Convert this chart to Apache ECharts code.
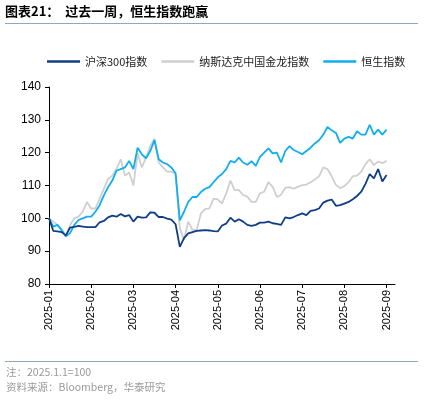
<!DOCTYPE html>
<html>
<head>
<meta charset="utf-8">
<script src="https://cdn.jsdelivr.net/npm/echarts@6/dist/echarts.min.js"></script>
<style>
  html, body { margin: 0; padding: 0; background: #fff; }
  #chart { width: 426px; height: 401px; }
</style>
</head>
<body>
<div id="chart"></div>
<script>
// 横轴月份，每月10个点
let months = ['2025-01', '2025-02', '2025-03', '2025-04', '2025-05', '2025-06', '2025-07', '2025-08', '2025-09'];
let pointsPerMonth = 10;
let yTicks = [80, 90, 100, 110, 120, 130, 140];
let seriesNames = ['沪深300指数', '纳斯达克中国金龙指数', '恒生指数'];

let csi300 = [
    100, 96.2, 96, 95.8, 94.8, 97.2, 97.4, 97.7, 97.5, 97.3,
    97.3, 97.3, 98.8, 99.2, 100.3, 100.8, 100.5, 101.3, 100.6, 101,
    99, 100.5, 100.2, 100.3, 101.8, 101.7, 100.4, 100.4, 99.9, 99.6,
    98.2, 91.3, 94, 95.4, 95.8, 96.2, 96.3, 96.4, 96.3, 96.1,
    96, 97.8, 98.4, 100.2, 99, 99.7, 99, 98, 97.7, 98,
    98.7, 98.7, 99, 98.5, 98.3, 98, 100.3, 100, 100.4, 101,
    101.5, 101, 102.3, 102.5, 103, 104.8, 105.4, 105.7, 103.8, 104,
    104.5, 105, 105.8, 106.8, 108.1, 110.5, 113.5, 112.2, 115, 111.2,
    113.2
];
let nasdaqDragon = [
    100, 99, 98, 96, 94.5, 98, 100, 100.5, 102, 105,
    103, 103, 106, 109, 112, 113, 115, 118, 113, 114,
    110, 119.8, 115.5, 118.5, 122, 124.3, 117, 115.5, 114.2, 114.2,
    113.5, 97, 93.5, 99, 96.5, 96.5, 101.5, 102.8, 103, 106,
    105.8, 104.5, 107.6, 111.5, 108.6, 108.6, 107.1, 106.6, 105, 105,
    107.6, 108.1, 111, 109.6, 106.5, 107.2, 109.3, 109.5, 109, 109.6,
    110.1, 110.3, 111, 111.8, 112.8, 115.5, 115, 112.8, 110.2, 109.2,
    109.8, 111, 112.8, 113, 114.2, 116.5, 118, 116.2, 117.3, 116.8,
    117.5
];
let hangSeng = [
    100, 97.5, 98, 96.5, 94.5, 95.5, 98, 99.5, 100, 100.5,
    100.5, 102, 104, 107, 109.5, 111.5, 114.5, 115, 115.5, 117.5,
    115, 121.5, 119.5, 118.3, 120.5, 123.8, 118, 117, 116.5, 115.5,
    113.7, 99.4, 102, 105, 106.5, 106.5, 108, 109, 109.5, 111,
    112.5, 113.5, 115, 117.5, 117, 118.5, 117, 116.3, 117.4, 116,
    118.7, 120, 121.3, 119.8, 120, 117, 120.5, 122, 120.8, 120.2,
    119.5, 120.5, 121.5, 122.8, 123.8, 125.5, 127.8, 126.8, 126, 123,
    124.3, 124.8, 124.3, 126.5, 125.5, 125.5, 128.5, 125.5, 127, 125.5,
    127
];

// 类目：每个点一个，末尾多留两格让轴线略长
let categories = [];
let total = (months.length - 1) * pointsPerMonth + 3;
for (let i = 0; i < total; i++) {
    let m = Math.min(Math.floor(i / pointsPerMonth), months.length - 1);
    categories.push(months[m] + '|' + i);
}
let monthTick = function (index) { return index % pointsPerMonth === 0; };

let colors = ['#0f3e86', '#cfcfcf', '#10aef0'];
let cjk = '"Noto Sans CJK SC", "Liberation Sans", sans-serif';

let chart = echarts.init(document.getElementById('chart'));
let option = {
    animation: false,
    backgroundColor: '#fff',
    color: colors,
    graphic: [
        {type: 'text', left: 5, top: 5,
         style: {text: '图表21：  过去一周，恒生指数跑赢', font: 'bold 13px ' + cjk, fill: '#000'}},
        {type: 'line', shape: {x1: 5, y1: 23.5, x2: 418, y2: 23.5}, style: {stroke: '#8fa8c0', lineWidth: 1}},
        {type: 'line', shape: {x1: 5, y1: 361.5, x2: 418, y2: 361.5}, style: {stroke: '#8fa8c0', lineWidth: 1}},
        {type: 'text', left: 6, top: 367,
         style: {text: '注：2025.1.1=100', font: '10.5px ' + cjk, fill: '#9a9a9a'}},
        {type: 'text', left: 6, top: 382,
         style: {text: '资料来源：Bloomberg，华泰研究', font: '10.5px ' + cjk, fill: '#9a9a9a'}}
    ],
    legend: {
        top: 51,
        left: 42,
        icon: 'rect',
        itemWidth: 33,
        itemHeight: 2.5,
        itemGap: 14,
        textStyle: {fontFamily: cjk, fontSize: 11, color: '#222'},
        data: seriesNames
    },
    grid: {left: 49, right: 31, top: 87, bottom: 117, containLabel: false},
    xAxis: {
        type: 'category',
        boundaryGap: false,
        data: categories,
        axisLine: {lineStyle: {color: '#000', width: 1}},
        axisTick: {interval: monthTick, length: 4, lineStyle: {color: '#000'}},
        axisLabel: {
            interval: monthTick,
            rotate: 90,
            fontFamily: 'Liberation Sans, Arial, sans-serif',
            fontSize: 11,
            color: '#000',
            margin: 6,
            formatter: function (v) { return v.split('|')[0]; }
        },
        splitLine: {show: false}
    },
    yAxis: {
        type: 'value',
        min: yTicks[0],
        max: yTicks[yTicks.length - 1],
        interval: 10,
        axisLine: {show: true, lineStyle: {color: '#000', width: 1}},
        axisTick: {show: true, length: 4, lineStyle: {color: '#000'}},
        axisLabel: {fontFamily: 'Liberation Sans, Arial, sans-serif', fontSize: 12, color: '#000', margin: 8},
        splitLine: {show: false}
    },
    series: [
        {name: seriesNames[1], type: 'line', data: nasdaqDragon, showSymbol: false, symbol: 'none', lineStyle: {width: 1.8}, z: 2},
        {name: seriesNames[2], type: 'line', data: hangSeng, showSymbol: false, symbol: 'none', lineStyle: {width: 1.8}, z: 3},
        {name: seriesNames[0], type: 'line', data: csi300, showSymbol: false, symbol: 'none', lineStyle: {width: 1.8}, z: 4}
    ]
};
// 颜色按系列名对应
option.series.forEach(function (s) {
    s.itemStyle = {color: colors[seriesNames.indexOf(s.name)]};
    s.lineStyle.color = colors[seriesNames.indexOf(s.name)];
});
chart.setOption(option);
</script>
</body>
</html>
